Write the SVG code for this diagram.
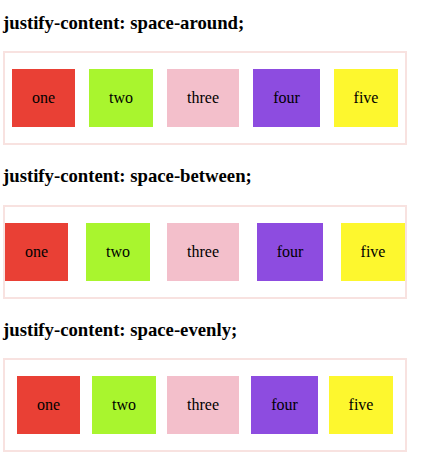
<svg xmlns="http://www.w3.org/2000/svg" width="429" height="460" viewBox="0 0 429 460">
<style>
.title{font-family:"Liberation Serif","Times New Roman",serif;font-weight:bold;font-size:18.72px;fill:#000}
.lbl{font-family:"Liberation Serif","Times New Roman",serif;font-size:16px;fill:#000;text-anchor:middle}
.box{fill:none;stroke:#f8e2e0;stroke-width:2}
.c1{fill:#e94035}.c2{fill:#a9f52e}.c3{fill:#f3bfcb}.c4{fill:#8d4ce0}.c5{fill:#fdf72e}
</style>
<rect width="429" height="460" fill="#fff"/>
<g id="around">
<text class="title" x="3" y="29">justify-content: space-around;</text>
<rect class="box" x="4" y="52" width="402" height="92"/>
<g id="a-one"><rect class="c1" x="12" y="69" width="63" height="58"/><text class="lbl" x="43.5" y="103">one</text></g>
<g id="a-two"><rect class="c2" x="89" y="69" width="64" height="58"/><text class="lbl" x="121" y="103">two</text></g>
<g id="a-three"><rect class="c3" x="167" y="69" width="72" height="58"/><text class="lbl" x="203" y="103">three</text></g>
<g id="a-four"><rect class="c4" x="253" y="69" width="67" height="58"/><text class="lbl" x="286.5" y="103">four</text></g>
<g id="a-five"><rect class="c5" x="334" y="69" width="64" height="58"/><text class="lbl" x="366" y="103">five</text></g>
</g>
<g id="between">
<text class="title" x="3" y="182">justify-content: space-between;</text>
<rect class="box" x="4" y="206" width="402" height="92"/>
<g id="b-one"><rect class="c1" x="5" y="223" width="63" height="58"/><text class="lbl" x="36.5" y="257">one</text></g>
<g id="b-two"><rect class="c2" x="86" y="223" width="64" height="58"/><text class="lbl" x="118" y="257">two</text></g>
<g id="b-three"><rect class="c3" x="167" y="223" width="72" height="58"/><text class="lbl" x="203" y="257">three</text></g>
<g id="b-four"><rect class="c4" x="257" y="223" width="66" height="58"/><text class="lbl" x="290" y="257">four</text></g>
<g id="b-five"><rect class="c5" x="341" y="223" width="64" height="58"/><text class="lbl" x="373" y="257">five</text></g>
</g>
<g id="evenly">
<text class="title" x="3" y="336">justify-content: space-evenly;</text>
<rect class="box" x="4" y="359" width="402" height="92"/>
<g id="e-one"><rect class="c1" x="17" y="376" width="63" height="58"/><text class="lbl" x="48.5" y="410">one</text></g>
<g id="e-two"><rect class="c2" x="92" y="376" width="64" height="58"/><text class="lbl" x="124" y="410">two</text></g>
<g id="e-three"><rect class="c3" x="167" y="376" width="72" height="58"/><text class="lbl" x="203" y="410">three</text></g>
<g id="e-four"><rect class="c4" x="251" y="376" width="67" height="58"/><text class="lbl" x="284.5" y="410">four</text></g>
<g id="e-five"><rect class="c5" x="329" y="376" width="64" height="58"/><text class="lbl" x="361" y="410">five</text></g>
</g>
</svg>
